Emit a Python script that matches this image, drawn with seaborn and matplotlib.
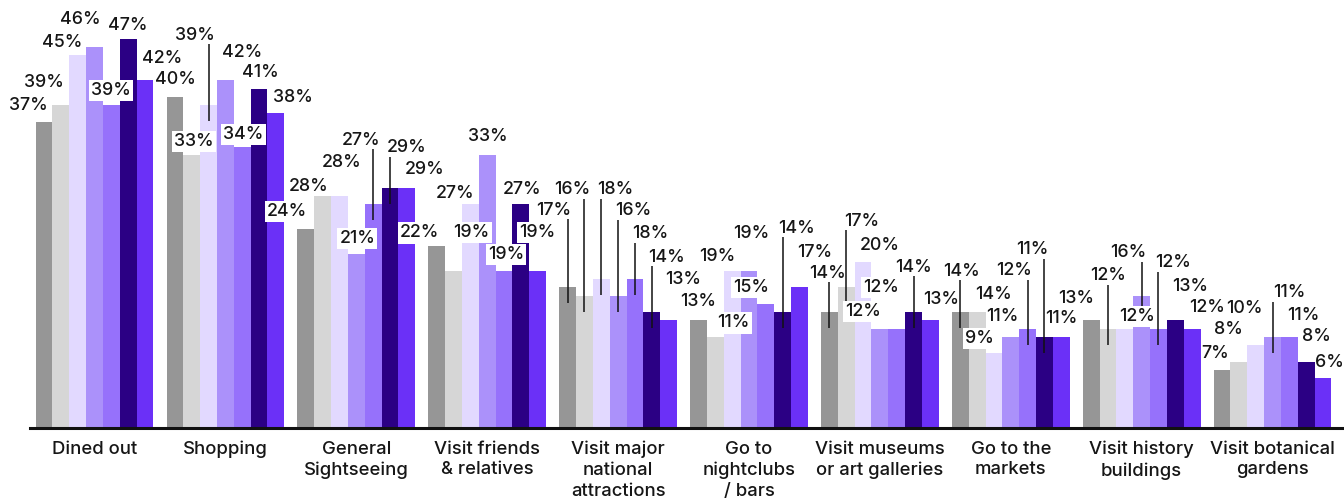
import matplotlib
matplotlib.use("Agg")
import matplotlib.pyplot as plt
import pandas as pd
import seaborn as sns

# ---- data -------------------------------------------------------------
categories = [
    "Dined out", "Shopping", "General\nSightseeing", "Visit friends\n& relatives",
    "Visit major\nnational\nattractions", "Go to\nnightclubs\n/ bars",
    "Visit museums\nor art galleries", "Go to the\nmarkets",
    "Visit history\nbuildings", "Visit botanical\ngardens",
]
series_names = ["Group 1", "Group 2", "Group 3", "Group 4", "Group 5", "Group 6", "Group 7"]

group1 = [37, 40, 24, 22, 17, 13, 14, 14, 13, 7]
group2 = [39, 33, 28, 19, 16, 11, 17, 14, 12, 8]
group3 = [45, 39, 28, 27, 18, 19, 20, 9, 12, 10]
group4 = [46, 42, 21, 33, 16, 19, 12, 11, 16, 11]
group5 = [39, 34, 27, 19, 18, 15, 12, 12, 12, 11]
group6 = [47, 41, 29, 27, 14, 14, 14, 11, 13, 8]
group7 = [42, 38, 29, 19, 13, 17, 13, 11, 12, 6]
series_values = [group1, group2, group3, group4, group5, group6, group7]

# ---- styling ----------------------------------------------------------
palette = ["#969696", "#d6d6d6", "#e2d9ff", "#ab91fa", "#9671fb", "#2b0084", "#6b30f7"]

# label placement (pixel offsets from each bar's top centre) and style:
# n = plain, b = white box, l = plain with leader line
label_dx = [
    [-16, -17, -16, -14, 0, 0, 17],
    [1, 2, -14, 17, 1, 1, 17],
    [-19, -14, 2, 1, -12, 17, 18],
    [-17, 18, -15, 1, 2, 1, 0],
    [-14, -12, 14, 15, 15, 15, 15],
    [0, 18, -15, 2, -15, 14, 15],
    [-2, 15, 17, -17, -16, 0, 11],
    [1, 16, -14, -8, -14, -12, 0],
    [-15, 0, 12, -13, 15, 15, 15],
    [-7, -10, -11, 17, 14, 10, 6],
]
label_dy = [
    [16, 23, 13, 28, 15, 13, 22],
    [17, 13, 70, 28, 12, 16, 16],
    [18, 10, 34, 16, 64, 40, 18],
    [13, 38, 11, 18, 16, 15, 38],
    [77, 106, 89, 85, 45, 55, 41],
    [19, 14, 14, 37, 16, 84, 35],
    [39, 66, 17, 17, 41, 45, 21],
    [41, 18, 15, 20, 58, 87, 18],
    [22, 53, 12, 43, 66, 34, 21],
    [17, 32, 37, 44, 21, 25, 16],
]
label_style = [
    "nnnnbnn", "nblnbnn", "bnnblln", "bbnnbnb", "lllllln",
    "nbnnbln", "llnbbln", "lnbnlln", "nlbllnn", "nnnlnnn",
]

# ---- figure -----------------------------------------------------------
sns.set_style("white")
plt.rcParams["font.family"] = ["Inter", "DejaVu Sans"]

W, H, DPI = 1344, 500, 100
fig = plt.figure(figsize=(W / DPI, H / DPI), dpi=DPI)
ax_left, ax_bottom = 30 / W, 72 / H
ax_w, ax_h = 1314 / W, 428 / H
ax = fig.add_axes([ax_left, ax_bottom, ax_w, ax_h])

df = pd.DataFrame(
    [(cat, name, vals[i])
     for name, vals in zip(series_names, series_values)
     for i, cat in enumerate(categories)],
    columns=["category", "series", "value"],
)

sns.barplot(
    data=df, x="category", y="value", hue="series",
    order=categories, hue_order=series_names, palette=palette,
    width=0.9, saturation=1, errorbar=None, legend=False, ax=ax,
    zorder=2, linewidth=0, edgecolor="none",
)

ymax = 51.7
ax.set_xlim(-0.493, 9.546)
ax.set_ylim(0, ymax)
sy = H * ax_h / ymax  # pixels per percentage point

ax.set_xlabel("")
ax.set_ylabel("")
ax.set_yticks([])
ax.tick_params(axis="x", length=0, pad=9, labelsize=13.3, colors="#161616")
for lbl in ax.get_xticklabels():
    lbl.set_linespacing(1.3)
    lbl.set_fontweight("medium")
for side in ("left", "right", "top"):
    ax.spines[side].set_visible(False)
ax.spines["bottom"].set_color("#111111")
ax.spines["bottom"].set_linewidth(2.2)

# ---- value labels -----------------------------------------------------
for h, container in enumerate(ax.containers):
    for c, patch in enumerate(container):
        x = patch.get_x() + patch.get_width() / 2
        v = series_values[h][c]
        dx, dy = label_dx[c][h], label_dy[c][h]
        style = label_style[c][h]
        bbox = None
        if style == "b":
            bbox = dict(boxstyle="square,pad=0.12", fc="white", ec="none")
        ax.annotate(
            f"{v}%", xy=(x, v), xytext=(dx, dy), textcoords="offset pixels",
            ha="center", va="center", fontsize=12.8, fontweight="medium",
            color="#161616", bbox=bbox, zorder=5, annotation_clip=False,
        )
        if style == "l":
            ax.plot([x, x], [v + (dy - 9) / sy, v - 16 / sy],
                    color="#111111", lw=1.1, zorder=4, solid_capstyle="butt")

fig.savefig("out.png", dpi=DPI)
